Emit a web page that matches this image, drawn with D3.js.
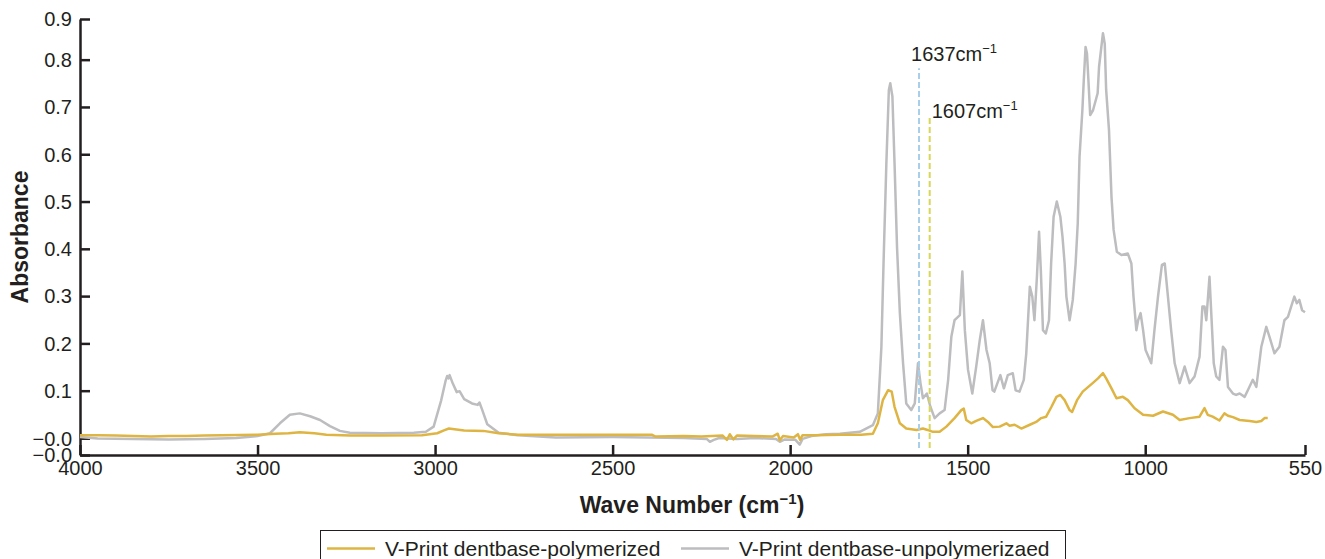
<!DOCTYPE html>
<html>
<head>
<meta charset="utf-8">
<script src="https://cdn.jsdelivr.net/npm/d3@7"></script>
<style>
  body { margin: 0; background: #fff; }
  text { font-family: "Liberation Sans", Arial, sans-serif; fill: #231f20; }
</style>
</head>
<body>
<script>
let width = 1325;
let height = 559;

// x ticks (wave number) and y ticks (absorbance)
let xTicks = [4000, 3500, 3000, 2500, 2000, 1500, 1000, 550];
let yTickValues = [-0.036, -0.0005, 0.1, 0.2, 0.3, 0.4, 0.5, 0.6, 0.7, 0.8, 0.886];
let yTickLabels = ["\u22120.0", "\u22120.0", "0.1", "0.2", "0.3", "0.4", "0.5", "0.6", "0.7", "0.8", "0.9"];

// marked bands
let markers = [
  { wave: 1637, top: 0.782, label: "1637cm", color: "#a8cfe9" },
  { wave: 1607, top: 0.683, label: "1607cm", color: "#d8d75a" }
];

let seriesNames = ["V-Print dentbase-polymerized", "V-Print dentbase-unpolymerizaed"];

// unpolymerized spectrum [wave number, absorbance]
let unpolymerized = [
  [4000,0.002],[3950,-0.001],[3850,-0.002],[3750,-0.003],[3650,-0.002],[3560,0.0],[3500,0.004],
  [3465,0.010],[3437,0.031],[3409,0.049],[3381,0.052],[3352,0.046],[3324,0.038],[3296,0.025],
  [3268,0.015],[3240,0.011],[3150,0.010],[3060,0.011],[3026,0.013],[3004,0.024],[2983,0.079],
  [2970,0.122],[2966,0.131],[2962,0.126],[2959,0.133],[2950,0.115],[2939,0.097],[2931,0.099],
  [2918,0.082],[2896,0.073],[2880,0.070],[2875,0.075],[2868,0.061],[2853,0.029],[2821,0.011],
  [2767,0.006],[2660,0.001],[2500,0.002],[2400,0.001],[2300,0.0],[2235,-0.002],[2226,-0.008],
  [2215,-0.004],[2200,0.0],[2150,-0.002],[2100,0.0],[2040,-0.002],[2029,-0.008],[2015,-0.003],
  [1985,-0.004],[1973,-0.014],[1965,-0.002],[1940,0.004],[1900,0.008],[1860,0.009],[1804,0.013],
  [1767,0.027],[1753,0.052],[1743,0.193],[1737,0.369],[1729,0.581],[1722,0.736],[1718,0.750],
  [1712,0.722],[1706,0.581],[1699,0.404],[1691,0.264],[1682,0.158],[1673,0.073],[1659,0.059],
  [1649,0.073],[1640,0.158],[1633,0.116],[1626,0.084],[1615,0.094],[1605,0.066],[1593,0.042],
  [1579,0.052],[1565,0.059],[1555,0.123],[1546,0.214],[1537,0.249],[1522,0.260],[1515,0.352],
  [1508,0.228],[1499,0.144],[1487,0.094],[1476,0.151],[1466,0.207],[1457,0.249],[1447,0.186],
  [1438,0.158],[1430,0.101],[1425,0.098],[1408,0.133],[1398,0.105],[1387,0.133],[1373,0.137],
  [1365,0.101],[1354,0.098],[1342,0.123],[1335,0.179],[1325,0.320],[1318,0.299],[1312,0.249],
  [1305,0.341],[1299,0.436],[1294,0.355],[1288,0.228],[1280,0.221],[1271,0.249],[1265,0.369],
  [1258,0.468],[1249,0.500],[1239,0.468],[1233,0.426],[1227,0.369],[1222,0.299],[1213,0.249],
  [1204,0.292],[1196,0.369],[1190,0.454],[1185,0.595],[1177,0.693],[1173,0.757],[1168,0.827],
  [1164,0.813],[1160,0.757],[1155,0.683],[1147,0.693],[1134,0.729],[1130,0.785],[1119,0.856],
  [1114,0.834],[1110,0.736],[1102,0.651],[1095,0.510],[1089,0.440],[1080,0.394],[1067,0.387],
  [1049,0.390],[1039,0.369],[1033,0.299],[1025,0.228],[1020,0.249],[1013,0.264],[1006,0.228],
  [999,0.186],[983,0.158],[974,0.228],[964,0.299],[953,0.366],[945,0.369],[936,0.299],[927,0.228],
  [917,0.158],[903,0.116],[889,0.151],[875,0.116],[861,0.130],[847,0.172],[839,0.278],[833,0.278],
  [828,0.249],[819,0.341],[814,0.264],[807,0.158],[800,0.130],[791,0.123],[781,0.193],[774,0.186],
  [767,0.108],[753,0.094],[744,0.091],[734,0.094],[720,0.087],[711,0.101],[697,0.123],[687,0.108],
  [673,0.193],[659,0.235],[650,0.214],[636,0.179],[622,0.193],[608,0.249],[598,0.256],[589,0.278],
  [580,0.299],[573,0.285],[566,0.292],[558,0.270],[550,0.266]
];

// polymerized spectrum [wave number, absorbance]
let polymerized = [
  [4000,0.006],[3950,0.006],[3900,0.005],[3850,0.004],[3800,0.003],[3750,0.004],[3700,0.004],
  [3650,0.005],[3600,0.006],[3500,0.007],[3450,0.009],[3413,0.010],[3381,0.012],[3340,0.010],
  [3306,0.007],[3240,0.005],[3150,0.005],[3037,0.006],[2994,0.010],[2975,0.016],[2961,0.020],
  [2940,0.018],[2918,0.016],[2864,0.015],[2821,0.010],[2767,0.007],[2600,0.007],[2390,0.007],
  [2379,0.003],[2300,0.004],[2250,0.003],[2190,0.005],[2178,-0.004],[2170,0.008],[2160,-0.003],
  [2150,0.005],[2100,0.004],[2050,0.003],[2035,0.009],[2029,-0.005],[2020,0.004],[1990,0.001],
  [1978,0.008],[1972,-0.004],[1965,0.006],[1930,0.006],[1860,0.007],[1800,0.007],[1767,0.009],
  [1753,0.031],[1739,0.080],[1724,0.101],[1714,0.098],[1706,0.066],[1691,0.031],[1673,0.020],
  [1644,0.017],[1626,0.020],[1613,0.017],[1598,0.013],[1579,0.013],[1560,0.024],[1537,0.042],
  [1518,0.059],[1511,0.062],[1504,0.038],[1490,0.031],[1476,0.036],[1457,0.042],[1443,0.034],
  [1429,0.023],[1410,0.024],[1391,0.031],[1382,0.026],[1368,0.028],[1349,0.020],[1325,0.028],
  [1307,0.034],[1293,0.042],[1279,0.045],[1264,0.066],[1250,0.087],[1239,0.091],[1227,0.080],
  [1213,0.059],[1206,0.055],[1192,0.080],[1176,0.098],[1148,0.116],[1133,0.126],[1119,0.137],
  [1110,0.126],[1095,0.105],[1081,0.084],[1063,0.087],[1049,0.080],[1030,0.063],[1006,0.049],
  [978,0.047],[950,0.056],[922,0.049],[903,0.038],[875,0.042],[847,0.045],[833,0.063],[824,0.049],
  [810,0.045],[791,0.037],[777,0.052],[767,0.047],[753,0.044],[734,0.038],[706,0.036],[687,0.034],
  [673,0.036],[664,0.042],[655,0.042]
];

let colors = ["#deb443", "#bdbdc0"];

let svg = d3.select("body")
            .append("svg")
            .attr("width", width)
            .attr("height", height);

// scales
let x = d3.scaleLinear().domain([4000, 550]).range([80, 1305]);
let y = d3.scaleLinear().domain([-0.036, 0.886]).range([455, 19]);

// axes, ticks pointing inward
let xAxis = svg.append("g")
  .attr("transform", "translate(0,455)")
  .call(d3.axisBottom(x).tickValues(xTicks).tickSize(-10).tickSizeOuter(0).tickPadding(6).tickFormat(d3.format("d")));

let yAxis = svg.append("g")
  .attr("transform", "translate(80,0)")
  .call(d3.axisLeft(y).tickValues(yTickValues).tickSize(-10).tickSizeOuter(0).tickPadding(8)
    .tickFormat(function(d, i) { return yTickLabels[i]; }));

[xAxis, yAxis].forEach(function(g) {
  g.select(".domain").attr("stroke", "#231f20").attr("stroke-width", 2.5);
  g.selectAll(".tick line").attr("stroke", "#231f20").attr("stroke-width", 2.5);
  g.selectAll(".tick text").attr("font-size", 20).attr("fill", "#231f20")
    .attr("font-family", "'Liberation Sans', Arial, sans-serif");
});
// bottom-most y label sits a bit lower in the original
yAxis.selectAll(".tick text").attr("dy", "0.34em");
xAxis.selectAll(".tick text").attr("dy", "0.72em");

// axis titles
svg.append("text")
  .attr("transform", "translate(28,237) rotate(-90)")
  .attr("text-anchor", "middle")
  .attr("font-size", 23)
  .attr("font-weight", "bold")
  .text("Absorbance");

let xTitle = svg.append("text")
  .attr("x", 692)
  .attr("y", 513)
  .attr("text-anchor", "middle")
  .attr("font-size", 23)
  .attr("font-weight", "bold");
xTitle.append("tspan").text("Wave Number (cm");
xTitle.append("tspan").attr("dy", -9).attr("font-size", 15).text("\u22121");
xTitle.append("tspan").attr("dy", 9).text(")");

// spectra
let line = d3.line()
  .x(function(d) { return x(d[0]); })
  .y(function(d) { return y(d[1]); });

svg.append("path")
  .datum(unpolymerized)
  .attr("d", line)
  .attr("fill", "none")
  .attr("stroke", colors[1])
  .attr("stroke-width", 2.5)
  .attr("stroke-linejoin", "round");

svg.append("path")
  .datum(polymerized)
  .attr("d", line)
  .attr("fill", "none")
  .attr("stroke", colors[0])
  .attr("stroke-width", 2.5)
  .attr("stroke-linejoin", "round");

// marker lines + labels
markers.forEach(function(m, i) {
  svg.append("line")
    .attr("x1", x(m.wave)).attr("x2", x(m.wave))
    .attr("y1", y(-0.021)).attr("y2", y(m.top))
    .attr("stroke", m.color)
    .attr("stroke-width", 2)
    .attr("stroke-dasharray", "6,3");
  let t = svg.append("text")
    .attr("x", i === 0 ? x(m.wave) - 8 : x(m.wave) + 2)
    .attr("y", y(m.top) - (i === 0 ? 7 : -3))
    .attr("font-size", 20);
  t.append("tspan").text(m.label);
  t.append("tspan").attr("dy", -8).attr("font-size", 13).text("\u22121");
});

// legend
let legend = svg.append("g");
legend.append("rect")
  .attr("x", 320.5).attr("y", 530.5)
  .attr("width", 745).attr("height", 40)
  .attr("fill", "none")
  .attr("stroke", "#231f20")
  .attr("stroke-width", 1);

let legendX = [327, 681];
seriesNames.forEach(function(name, i) {
  legend.append("line")
    .attr("x1", legendX[i]).attr("x2", legendX[i] + 48)
    .attr("y1", 548.5).attr("y2", 548.5)
    .attr("stroke", colors[i])
    .attr("stroke-width", 2.5);
  legend.append("text")
    .attr("x", legendX[i] + 58)
    .attr("y", 556)
    .attr("font-size", 21)
    .text(name);
});
</script>
</body>
</html>
